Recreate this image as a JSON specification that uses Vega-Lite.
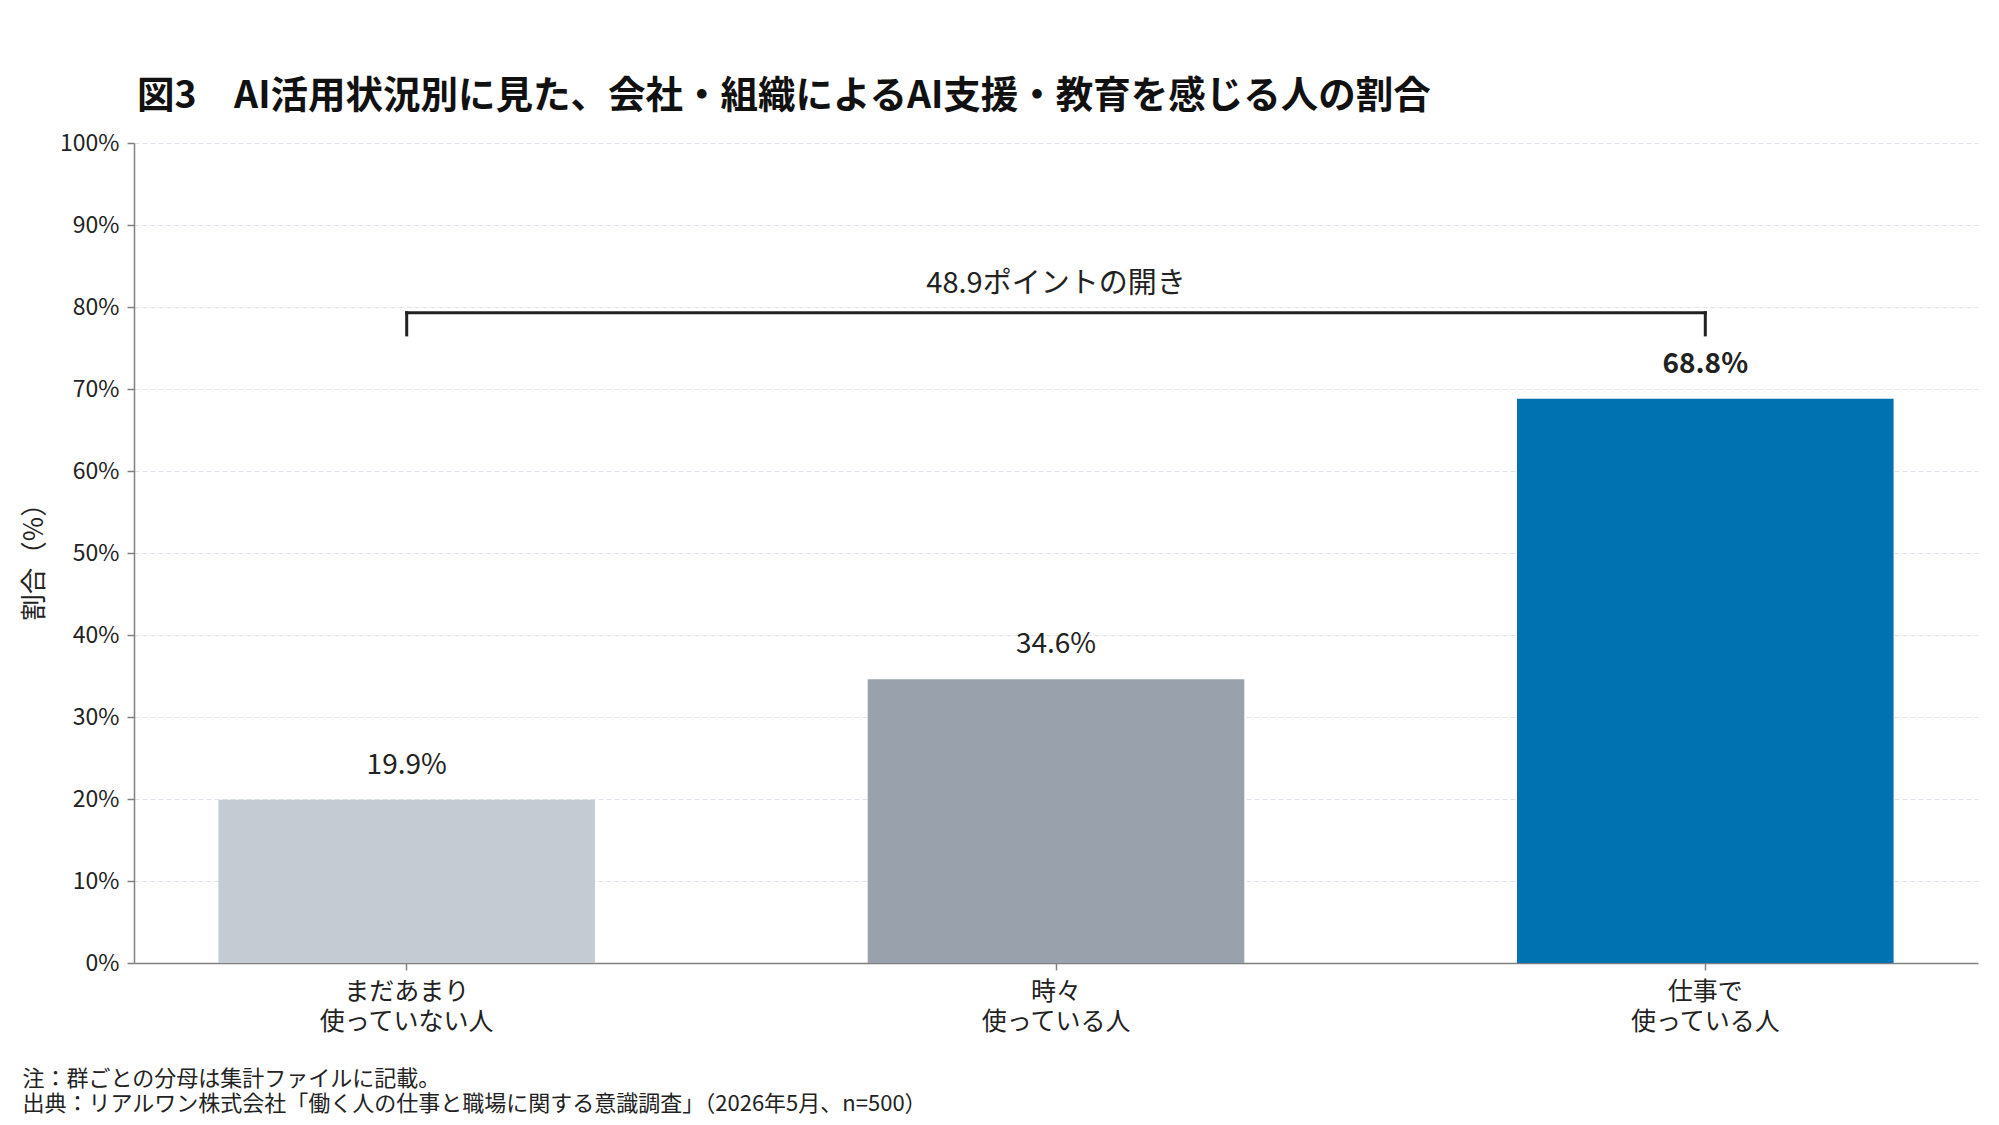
{
  "$schema": "https://vega.github.io/schema/vega-lite/v6.json",
  "width": 1844,
  "height": 820,
  "autosize": {"type": "none"},
  "padding": {"left": 134, "top": 143, "right": 21, "bottom": 162},
  "background": "white",
  "title": {
    "text": "図3　AI活用状況別に見た、会社・組織によるAI支援・教育を感じる人の割合",
    "anchor": "start",
    "frame": "group",
    "baseline": "alphabetic",
    "offset": 34,
    "dx": 3,
    "dy": 47,
    "fontSize": 37.5,
    "fontWeight": "bold",
    "font": "Noto Sans CJK JP",
    "color": "#111111"
  },
  "datasets": {
    "bars": [
      {"group": "まだあまり 使っていない人", "rate": 19.9, "label": "19.9%"},
      {"group": "時々 使っている人", "rate": 34.6, "label": "34.6%"},
      {"group": "仕事で 使っている人", "rate": 68.8, "label": "68.8%"}
    ],
    "bracketH": [
      {"from": "まだあまり 使っていない人", "to": "仕事で 使っている人", "level": 79.3}
    ],
    "bracketV": [
      {"group": "まだあまり 使っていない人", "low": 76.6, "high": 79.3},
      {"group": "仕事で 使っている人", "low": 76.6, "high": 79.3}
    ],
    "note": [
      {"group": "時々 使っている人", "level": 81.7, "label": "48.9ポイントの開き"}
    ]
  },
  "config": {
    "font": "Noto Sans CJK JP",
    "view": {"stroke": null},
    "axis": {
      "labelFont": "Noto Sans CJK JP",
      "titleFont": "Noto Sans CJK JP",
      "labelColor": "#222222",
      "titleColor": "#222222",
      "domainColor": "#808080",
      "domainWidth": 1.5,
      "tickColor": "#808080",
      "tickWidth": 1.5,
      "tickSize": 7
    }
  },
  "layer": [
    {
      "data": {"name": "bars"},
      "mark": {"type": "bar"},
      "encoding": {
        "x": {
          "field": "group",
          "type": "nominal",
          "sort": null,
          "scale": {"paddingInner": 0.42, "paddingOuter": 0.13},
          "axis": {
            "labelExpr": "split(datum.label, ' ')",
            "labelAngle": 0,
            "labelFontSize": 25,
            "labelLineHeight": 30,
            "labelPadding": 9,
            "labelBaseline": "top",
            "title": ["注：群ごとの分母は集計ファイルに記載。", "出典：リアルワン株式会社「働く人の仕事と職場に関する意識調査」（2026年5月、n=500）"],
            "titleFontSize": 22,
            "titleFontWeight": "normal",
            "titleLineHeight": 25,
            "titleAlign": "left",
            "titleAnchor": "start",
            "titleBaseline": "top",
            "titleX": -112,
            "titleY": 105,
            "grid": false
          }
        },
        "y": {
          "field": "rate",
          "type": "quantitative",
          "scale": {"domain": [0, 100], "nice": false},
          "axis": {
            "values": [0, 10, 20, 30, 40, 50, 60, 70, 80, 90, 100],
            "labelExpr": "datum.value + '%'",
            "labelFontSize": 23,
            "labelPadding": 8,
            "grid": true,
            "gridColor": "#dfe4ea",
            "gridDash": [5, 3],
            "gridWidth": 1,
            "title": "割合（%）",
            "titleFontSize": 26.5,
            "titleFontWeight": "normal",
            "titleAngle": -90,
            "titleX": -100,
            "titleY": 412,
            "titleAlign": "center",
            "titleBaseline": "middle"
          }
        },
        "color": {
          "field": "group",
          "type": "nominal",
          "scale": {
            "domain": ["まだあまり 使っていない人", "時々 使っている人", "仕事で 使っている人"],
            "range": ["#c4cbd3", "#99a2ac", "#0071b1"]
          },
          "legend": null
        }
      }
    },
    {
      "data": {"name": "bars"},
      "transform": [{"filter": "datum.rate <= 60"}],
      "mark": {"type": "text", "baseline": "alphabetic", "dy": -26, "fontSize": 28, "color": "#222222"},
      "encoding": {
        "x": {"field": "group", "type": "nominal", "sort": null},
        "y": {"field": "rate", "type": "quantitative"},
        "text": {"field": "label"}
      }
    },
    {
      "data": {"name": "bars"},
      "transform": [{"filter": "datum.rate > 60"}],
      "mark": {"type": "text", "baseline": "alphabetic", "dy": -26, "fontSize": 28, "fontWeight": "bold", "color": "#222222"},
      "encoding": {
        "x": {"field": "group", "type": "nominal", "sort": null},
        "y": {"field": "rate", "type": "quantitative"},
        "text": {"field": "label"}
      }
    },
    {
      "data": {"name": "bracketH"},
      "mark": {"type": "rule", "color": "#222222", "strokeWidth": 3, "strokeCap": "square"},
      "encoding": {
        "x": {"field": "from", "type": "nominal", "sort": null},
        "x2": {"field": "to"},
        "y": {"field": "level", "type": "quantitative"}
      }
    },
    {
      "data": {"name": "bracketV"},
      "mark": {"type": "rule", "color": "#222222", "strokeWidth": 3, "strokeCap": "square"},
      "encoding": {
        "x": {"field": "group", "type": "nominal", "sort": null},
        "y": {"field": "low", "type": "quantitative"},
        "y2": {"field": "high"}
      }
    },
    {
      "data": {"name": "note"},
      "mark": {"type": "text", "baseline": "alphabetic", "fontSize": 29, "color": "#222222"},
      "encoding": {
        "x": {"field": "group", "type": "nominal", "sort": null},
        "y": {"field": "level", "type": "quantitative"},
        "text": {"field": "label"}
      }
    }
  ]
}
